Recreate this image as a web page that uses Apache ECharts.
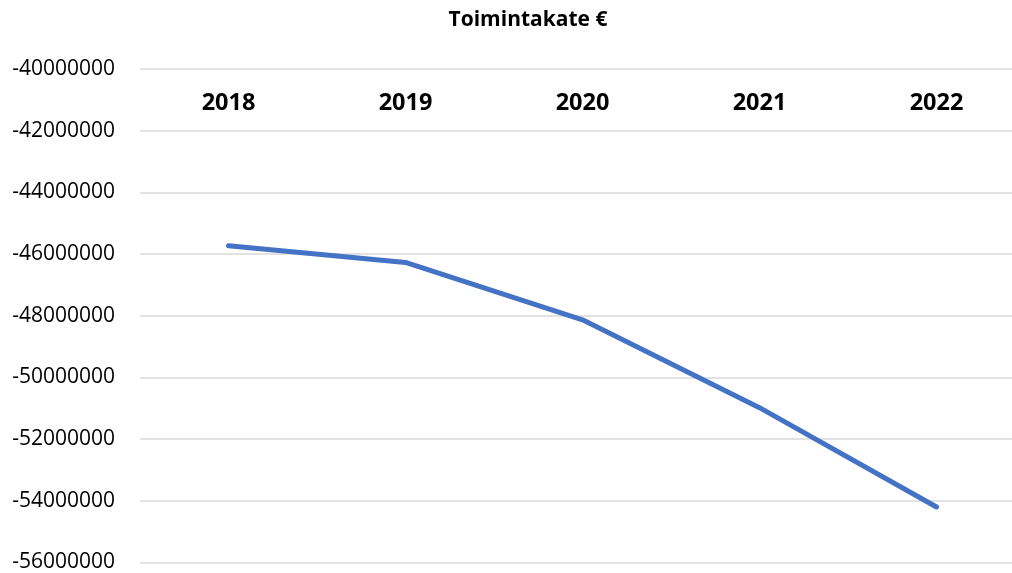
<!DOCTYPE html>
<html>
<head>
<meta charset="utf-8">
<script src="https://cdn.jsdelivr.net/npm/echarts@6/dist/echarts.min.js"></script>
<style>
    html, body { margin: 0; padding: 0; background: #fff; overflow: hidden; }
    #main { width: 1025px; height: 573px; }
</style>
</head>
<body>
<div id="main"></div>
<script>
// vuodet ja toimintakate
var years = ['2018', '2019', '2020', '2021', '2022'];
var toimintakate = [-45730000, -46270000, -48130000, -50980000, -54200000];

var yMin = -56000000;
var yMax = -40000000;
var yStep = 2000000;

var myChart = echarts.init(document.getElementById('main'));
var option = {
    animation: false,
    textStyle: { fontFamily: 'Open Sans' },
    title: {
        text: 'Toimintakate €',
        left: 523,
        textAlign: 'center',
        top: 5,
        textStyle: { fontFamily: 'Open Sans', fontWeight: 'bold', fontSize: 21, color: '#000' }
    },
    grid: { left: 140, right: 0, top: 69, bottom: 10 },
    xAxis: {
        type: 'category',
        position: 'top',
        data: years,
        boundaryGap: true,
        axisLine: { show: false },
        axisTick: { show: false },
        axisLabel: {
            inside: true,
            margin: 34,
            verticalAlign: 'middle',
            fontFamily: 'Open Sans',
            fontWeight: 'bold',
            fontSize: 23.5,
            color: '#000'
        }
    },
    yAxis: {
        type: 'value',
        min: yMin,
        max: yMax,
        interval: yStep,
        axisLine: { show: false },
        axisTick: { show: false },
        axisLabel: {
            margin: 25,
            fontFamily: 'Open Sans',
            fontSize: 21,
            color: '#000',
            formatter: function (v) { return String(v); }
        },
        splitLine: { lineStyle: { color: '#d9d9d9', width: 1.5 } }
    },
    series: [{
        name: 'Toimintakate €',
        type: 'line',
        data: toimintakate,
        symbol: 'none',
        lineStyle: { color: '#4472c4', width: 5, cap: 'round', join: 'round' }
    }]
};
myChart.setOption(option);
</script>
</body>
</html>
